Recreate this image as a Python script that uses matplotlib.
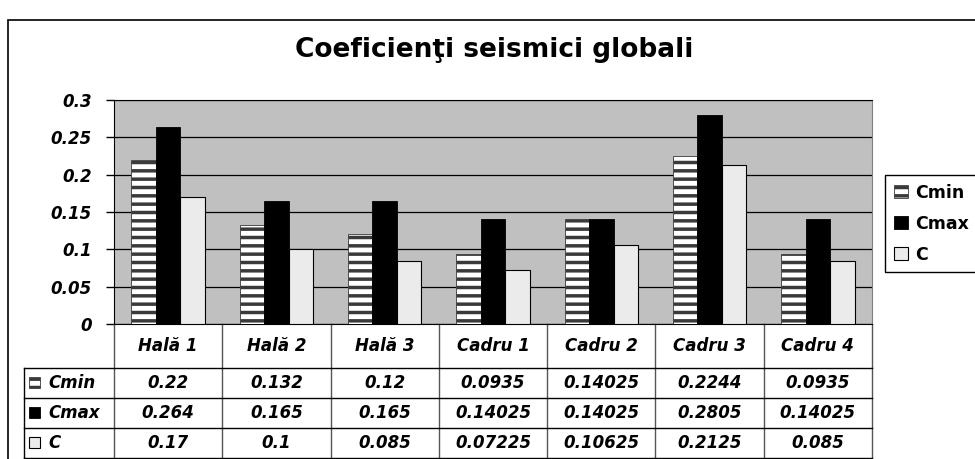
import matplotlib
matplotlib.use("Agg")
import matplotlib.pyplot as plt
from matplotlib.patches import Rectangle, Patch
import numpy as np

plt.rcParams['font.family'] = ['DejaVu Sans']
plt.rcParams['hatch.linewidth'] = 2.5

categories = ["Hală 1", "Hală 2", "Hală 3", "Cadru 1", "Cadru 2", "Cadru 3", "Cadru 4"]
series_names = ["Cmin", "Cmax", "C"]
cmin = [0.22, 0.132, 0.12, 0.0935, 0.14025, 0.2244, 0.0935]
cmax = [0.264, 0.165, 0.165, 0.14025, 0.14025, 0.2805, 0.14025]
c = [0.17, 0.1, 0.085, 0.07225, 0.10625, 0.2125, 0.085]
yticks = [0, 0.05, 0.1, 0.15, 0.2, 0.25, 0.3]
ytick_labels = ["0", "0.05", "0.1", "0.15", "0.2", "0.25", "0.3"]

# bar styles: striped / black / light grey
styles = [
    dict(facecolor="white", edgecolor="#3a3a3a", hatch="--", linewidth=0.6),
    dict(facecolor="black", edgecolor="black", linewidth=0.6),
    dict(facecolor="#ebebeb", edgecolor="black", linewidth=0.8),
]

fig = plt.figure(figsize=(9.75, 4.59), dpi=100)
ax = fig.add_axes([114/975, 1 - 324/459, 758/975, 224/459])

x = np.arange(len(categories))
w = 0.226
for k, vals in enumerate([cmin, cmax, c]):
    ax.bar(x + (k - 1) * w, vals, w, zorder=3, **styles[k])

ax.set_xlim(-0.5, len(categories) - 0.5)
ax.set_ylim(0, 0.3)
ax.set_facecolor("#c0c0c0")
ax.set_yticks(yticks)
ax.set_yticklabels(ytick_labels, fontsize=12, fontweight="bold", fontstyle="italic")
ax.tick_params(axis="y", length=6, width=1, pad=10, direction="out")
ax.set_xticks([])
ax.yaxis.grid(True, color="black", linewidth=0.9)
ax.set_axisbelow(True)
for s in ["left", "bottom", "top"]:
    ax.spines[s].set_color("black")
ax.spines["right"].set_color("#808080")

# data table below the plot
hdr_h = 0.196
row_h = 0.134
tbl_left = -0.119
xt = ax.get_xaxis_transform()
bottom = -hdr_h - 3 * row_h
for i in range(len(categories) + 1):
    ax.plot([i - 0.5, i - 0.5], [0, bottom], color="#555555", lw=1,
            transform=xt, clip_on=False)
for r in range(4):
    yy = -hdr_h - r * row_h
    ax.plot([tbl_left, 1], [yy, yy], color="black", lw=1,
            transform=ax.transAxes, clip_on=False)
ax.plot([tbl_left, tbl_left], [-hdr_h, bottom], color="black", lw=1,
        transform=ax.transAxes, clip_on=False)

tfont = dict(fontsize=12, fontweight="bold", fontstyle="italic")
for i, cat in enumerate(categories):
    ax.text(i, -hdr_h / 2, cat, ha="center", va="center", transform=xt, **tfont)

for r, (name, vals) in enumerate(zip(series_names, [cmin, cmax, c])):
    yc = -hdr_h - (r + 0.5) * row_h
    sw = Rectangle((tbl_left + 0.0075, yc - 0.0245), 0.0145, 0.049,
                   transform=ax.transAxes, clip_on=False, zorder=4, **styles[r])
    ax.add_patch(sw)
    ax.text(tbl_left + 0.033, yc, name, ha="left", va="center",
            transform=ax.transAxes, **tfont)
    for i, v in enumerate(vals):
        ax.text(i, yc, f"{v:g}", ha="center", va="center", transform=xt, **tfont)

# title
fig.text(494/975, 1 - 50/459, "Coeficienţi seismici globali", ha="center", va="center",
         fontsize=19, fontweight="bold")

# legend
handles = [Patch(**st) for st in styles]
leg = fig.legend(handles, series_names, loc="upper left",
                 bbox_to_anchor=(885/975, 1 - 175/459), fancybox=False,
                 edgecolor="black", framealpha=1,
                 prop=dict(size=12.5, weight="bold"), handlelength=0.8,
                 handleheight=0.8, handletextpad=0.45, borderpad=0.5,
                 labelspacing=0.75, borderaxespad=0)
leg.get_frame().set_linewidth(1)

# outer chart frame
fig.add_artist(Rectangle((8/975, -0.1), 1.2, 1 - 20/459 + 0.1, transform=fig.transFigure,
                         fill=False, edgecolor="black", lw=1.2))

fig.savefig("out.png", dpi=100)
